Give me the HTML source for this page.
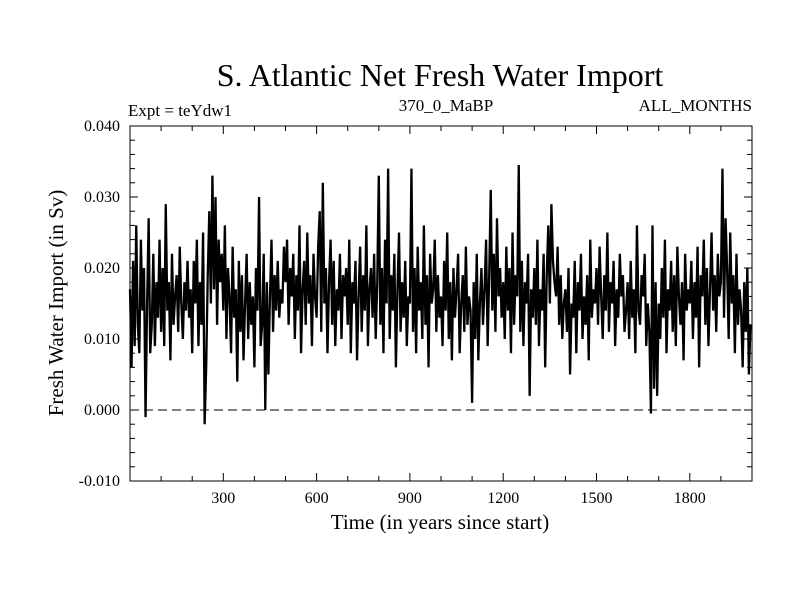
<!DOCTYPE html>
<html><head><meta charset="utf-8"><style>
html,body{margin:0;padding:0;background:#fff;}
svg{display:block;font-family:"Liberation Serif",serif;}
</style></head><body>
<svg id="chart" width="800" height="600">
<text x="440" y="86" font-size="32" text-anchor="middle">S. Atlantic Net Fresh Water Import</text>
<text x="128" y="116" font-size="17">Expt = teYdw1</text>
<text x="446" y="111" font-size="17" text-anchor="middle">370_0_MaBP</text>
<text x="752" y="111" font-size="17" text-anchor="end">ALL_MONTHS</text>
<text x="440" y="529" font-size="21" text-anchor="middle">Time (in years since start)</text>
<text transform="translate(63,303) rotate(-90)" font-size="21" text-anchor="middle">Fresh Water Import (in Sv)</text>
<g id="marks"></g>
<g id="axes"></g>
</svg>
<script>
const xTickValues=[300,600,900,1200,1500,1800];
const yTickValues=[-0.010,0.000,0.010,0.020,0.030,0.040];
const yTickLabels=["-0.010","0.000","0.010","0.020","0.030","0.040"];
const startYear=0;
const yearStep=5;
const importMilliSv=[
17,6,21,9,26,12,8,24,14,20,-1,15,27,8,12,22,9,18,13,24,
11,20,9,29,14,18,7,22,12,16,19,11,23,15,10,18,14,21,13,17,
8,21,15,24,9,18,12,25,-2,6,19,28,15,33,17,30,12,24,18,22,
14,26,10,20,16,8,23,13,17,4,21,11,19,7,15,22,10,18,12,16,
6,20,14,30,9,12,22,0,18,5,16,24,11,19,14,21,13,17,15,23,
18,24,12,20,16,22,10,19,14,26,8,17,21,12,25,15,19,9,22,16,
13,23,28,11,32,15,20,8,18,24,12,21,9,17,14,22,10,19,16,20,
12,24,8,18,15,21,7,16,23,11,19,14,26,9,17,20,13,22,10,18,
33,12,20,8,24,15,34,10,19,14,22,6,17,25,11,18,13,21,9,16,
15,34,11,20,8,23,14,18,10,26,12,19,6,22,15,17,24,11,19,13,
16,9,21,14,25,10,18,7,20,13,17,22,8,15,19,11,23,12,16,14,
1,18,10,22,7,15,20,12,17,24,9,19,31,14,22,11,27,16,20,13,
18,10,23,14,20,8,25,12,19,16,34.5,11,21,9,18,15,22,2,17,13,
20,12,24,9,17,14,22,6,19,26,15,29,21,18,16,23,12,19,10,15,
17,11,20,5,15,13,21,8,18,14,22,10,16,12,19,7,24,13,17,15,
20,12,23,16,10,19,14,25,11,18,15,21,9,17,13,22,16,19,11,14,
18,10,21,13,17,8,26,14,12,19,16,22,9,15,11,-0.5,26,3,18,2,
15,10,20,13,24,8,17,14,21,11,19,9,23,16,12,18,7,22,14,17,
15,21,10,18,13,23,6,19,16,24,12,20,9,17,25,14,19,11,22,16,
18,34,13,27,20,10,25,15,19,8,22,12,17,14,6,18,11,20,5,12
];
const NS="http://www.w3.org/2000/svg";
const L=130,R=752,T=126,B=481,xMin=0,xMax=2000,yMin=-0.010,yMax=0.040;
function xs(v){return L+(v-xMin)/(xMax-xMin)*(R-L);}
function ys(v){return B-(v-yMin)/(yMax-yMin)*(B-T);}
function mk(tag,attrs,parent){const e=document.createElementNS(NS,tag);for(const k in attrs)e.setAttribute(k,attrs[k]);parent.appendChild(e);return e;}
const marks=document.getElementById('marks'),axes=document.getElementById('axes');
const zl=mk('line',{x1:L,x2:R,y1:ys(0),y2:ys(0),stroke:'#000','stroke-width':1,'stroke-dasharray':'9,5'},marks);


let d='';
importMilliSv.forEach((v,i)=>{d+=(i?'L':'M')+xs(startYear+i*yearStep).toFixed(2)+','+ys(v/1000).toFixed(2);});
const ln=mk('path',{d:d,fill:'none',stroke:'#000','stroke-width':2.3,'stroke-linejoin':'miter','stroke-miterlimit':3},marks);


const fr=mk('rect',{x:L,y:T,width:R-L,height:B-T,fill:'none',stroke:'#000','stroke-width':1},axes);


for(let v=100;v<2000;v+=100){const x=xs(v),len=(v%300===0)?8:5;
mk('line',{x1:x,x2:x,y1:B,y2:B-len,stroke:'#000'},axes);mk('line',{x1:x,x2:x,y1:T,y2:T+len,stroke:'#000'},axes);}
for(let k=-5;k<=20;k++){const v=k*0.002,y=ys(v),len=(k%5===0)?8:5;
mk('line',{x1:L,x2:L+len,y1:y,y2:y,stroke:'#000'},axes);mk('line',{x1:R,x2:R-len,y1:y,y2:y,stroke:'#000'},axes);}
xTickValues.forEach(v=>{const t=mk('text',{x:xs(v),y:503,'font-size':16,'text-anchor':'middle'},axes);t.textContent=String(v);

});
yTickValues.forEach((v,i)=>{const t=mk('text',{x:120,y:ys(v)+5,'font-size':16,'text-anchor':'end'},axes);t.textContent=yTickLabels[i];

});
</script>
</body></html>
